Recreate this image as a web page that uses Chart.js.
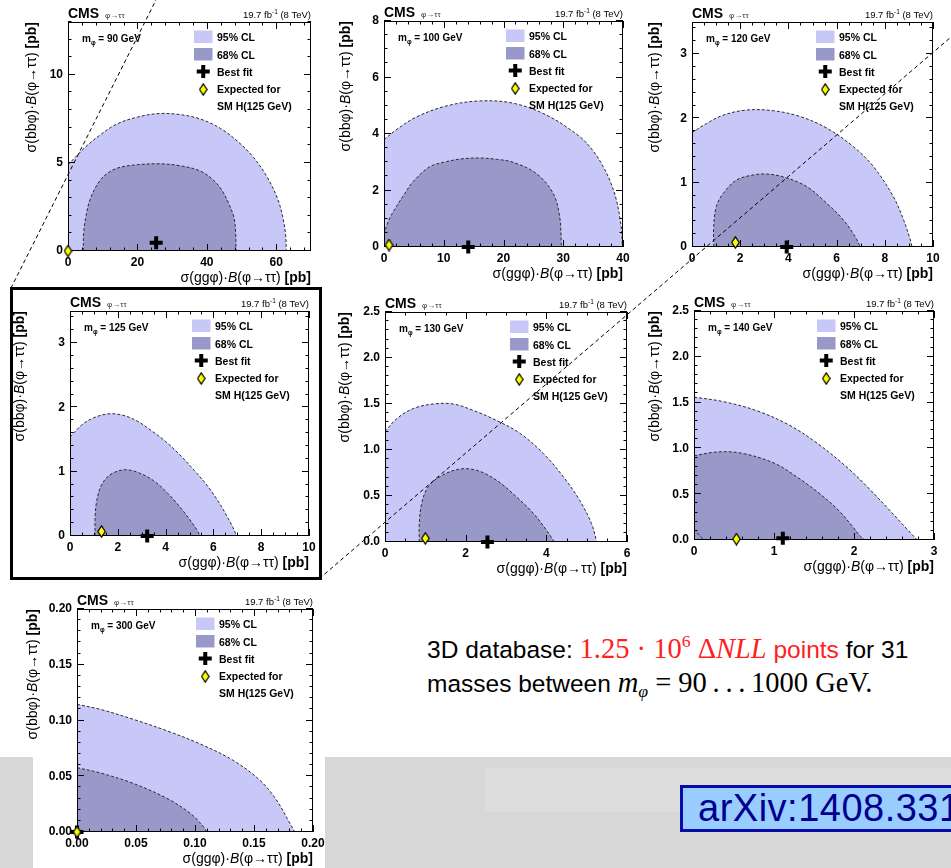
<!DOCTYPE html>
<html>
<head>
<meta charset="utf-8">
<script src="https://cdn.jsdelivr.net/npm/chart.js@4.4.0/dist/chart.umd.min.js"></script>
<style>
  html, body { margin: 0; padding: 0; width: 951px; height: 868px; overflow: hidden; background: #fff; position: relative;
    font-family: "Liberation Sans", Arial, Helvetica, sans-serif; }
  .abs { position: absolute; }
  canvas { position: absolute; }
  #band { left: 0; top: 757px; width: 951px; height: 111px; background: #d7d7d7; }
  #bandLight { left: 485px; top: 768px; width: 466px; height: 44px; background: #dcdcdc; }
  #p300bg { left: 33px; top: 590px; width: 292px; height: 278px; background: #fff; }
  #focus { left: 10px; top: 287px; width: 306px; height: 287px; border: 3px solid #000; }
  .note { position: absolute; left: 427px; font-size: 24.5px; line-height: 33px; white-space: nowrap; color: #000; }
  .m { font-family: "Liberation Serif", "DejaVu Serif", serif; font-size: 28.5px; }
  .red { color: #ff2020; }
  .note sup { font-size: 0.62em; line-height: 0; vertical-align: 0.62em; }
  .note sub { font-size: 0.62em; line-height: 0; vertical-align: -0.3em; }
  #arxiv { left: 680px; top: 785px; width: 320px; height: 41px; line-height: 41px; padding-left: 15px;
    background: #99ccff; border: 3px solid #0a0aa8; color: #00008c; font-size: 38px; letter-spacing: 0.5px; white-space: nowrap; }
  svg { position: absolute; left: 0; top: 0; pointer-events: none; }
</style>
</head>
<body>
<div class="abs" id="band"></div>
<div class="abs" id="bandLight"></div>
<div class="abs" id="p300bg"></div>

<div class="note" style="top:632px">3D database: <span class="m red">1.25 · 10<sup>6</sup> Δ<i>NLL</i></span><span class="red"> points</span> for 31</div>
<div class="note" style="top:666px">masses between <span class="m"><i>m</i><sub><i>φ</i></sub> = 90&thinsp;.&thinsp;.&thinsp;.&thinsp;1000 GeV.</span></div>
<div class="abs" id="arxiv">arXiv:1408.3316</div>

<script>
// ---------------- values per mass hypothesis ----------------
// contours are [sigma(gg phi)·B, sigma(bb phi)·B] in pb; regions are filled down to zero
const xLabels90 = ['0', '20', '40', '60'];
const yLabels90 = ['0', '5', '10'];
const cl95_90 = [[0,4.9],[2,5.3],[5,5.9],[9,6.55],[14,7.2],[20,7.6],[26,7.8],[32,7.75],[38,7.5],[44,6.95],[49,6.2],[53.5,5.3],[57.5,4.15],[60.5,2.9],[62,1.8],[62.7,0.9],[62.9,0]];
const cl68_90 = [[4.4,0],[4.5,1.0],[5.2,2.0],[6.5,3.0],[9.2,4.0],[12,4.5],[15,4.75],[20,4.9],[26.5,4.95],[32,4.85],[38,4.55],[42,4.0],[44.5,3.4],[46.5,2.6],[47.8,1.9],[48.3,1.0],[48.4,0]];
const best90 = [25.4, 0.47];
const sm90 = [0, 0];

const xLabels100 = ['0', '10', '20', '30', '40'];
const yLabels100 = ['0', '2', '4', '6', '8'];
const cl95_100 = [[0,3.8],[2,4.14],[5.4,4.6],[10.4,4.99],[16,5.17],[21.6,5.09],[27.2,4.67],[32.8,3.9],[35,3.4],[36.7,2.84],[38,2.25],[38.9,1.66],[39.5,1.0],[39.8,0.48],[39.9,0]];
const cl68_100 = [[0,0.45],[0.8,0.95],[2.07,1.43],[3.5,1.9],[4.86,2.31],[7.65,2.84],[10.4,3.02],[13,3.12],[16,3.15],[19,3.1],[21.6,3.0],[25.5,2.6],[28.3,1.9],[29.4,1.07],[29.7,0]];
const best100 = [14.1, 0];
const sm100 = [0.84, 0.07];

const xLabels120 = ['0', '2', '4', '6', '8', '10'];
const yLabels120 = ['0', '1', '2', '3'];
const cl95_120 = [[0,1.78],[0.6,1.92],[1.29,2.05],[2.26,2.13],[3.37,2.12],[4.48,2.03],[5.59,1.85],[6.7,1.56],[7.53,1.25],[8.36,0.78],[8.78,0.42],[9.06,0.11],[9.13,0]];
const cl68_120 = [[0.9,0],[0.9,0.32],[1.01,0.63],[1.29,0.83],[1.84,1.04],[2.54,1.12],[3.09,1.135],[3.79,1.09],[4.76,0.94],[5.59,0.68],[6.28,0.42],[6.77,0.16],[6.98,0]];
const best120 = [3.93, 0];
const sm120 = [1.8, 0.07];

const xLabels125 = ['0', '2', '4', '6', '8', '10'];
const yLabels125 = ['0', '1', '2', '3'];
const cl95_125 = [[0,1.54],[0.5,1.73],[1.0,1.84],[1.6,1.9],[2.2,1.88],[2.8,1.79],[3.4,1.64],[4.0,1.47],[4.6,1.26],[5.2,1.02],[5.75,0.78],[6.2,0.54],[6.55,0.32],[6.82,0.13],[6.97,0]];
const cl68_125 = [[1.05,0],[1.05,0.3],[1.12,0.55],[1.3,0.78],[1.6,0.93],[2.0,1.01],[2.4,1.03],[2.9,0.98],[3.5,0.86],[4.1,0.66],[4.6,0.45],[5.0,0.26],[5.3,0.1],[5.45,0]];
const best125 = [3.23, 0];
const sm125 = [1.32, 0.07];

const xLabels130 = ['0', '2', '4', '6'];
const yLabels130 = ['0.0', '0.5', '1.0', '1.5', '2.0', '2.5'];
const cl95_130 = [[0,1.2],[0.29,1.34],[0.7,1.45],[1.2,1.5],[1.69,1.5],[2.19,1.43],[2.77,1.32],[3.35,1.18],[3.93,0.96],[4.42,0.71],[4.83,0.45],[5.12,0.2],[5.25,0]];
const cl68_130 = [[0.85,0],[0.85,0.2],[0.91,0.42],[1.07,0.6],[1.36,0.71],[1.82,0.79],[2.27,0.78],[2.77,0.67],[3.26,0.49],[3.68,0.31],[4.0,0.13],[4.2,0]];
const best130 = [2.54, 0];
const sm130 = [1.0, 0.04];

const xLabels140 = ['0', '1', '2', '3'];
const yLabels140 = ['0.0', '0.5', '1.0', '1.5', '2.0', '2.5'];
const cl95_140 = [[0,1.56],[0.37,1.51],[0.79,1.41],[1.2,1.25],[1.55,1.05],[1.93,0.78],[2.2,0.55],[2.45,0.32],[2.65,0.13],[2.79,0]];
const cl68_140 = [[0,0.92],[0.28,0.96],[0.58,0.95],[1.0,0.84],[1.3,0.68],[1.55,0.52],[1.8,0.33],[1.97,0.16],[2.08,0.04],[2.14,0]];
const edge140 = [[0,0.12],[0.12,0]];
const best140 = [1.11, 0.02];
const sm140 = [0.53, 0.01];

const xLabels300 = ['0.00', '0.05', '0.10', '0.15', '0.20'];
const yLabels300 = ['0.00', '0.05', '0.10', '0.15', '0.20'];
const cl95_300 = [[0,0.1145],[0.0197,0.110],[0.0479,0.101],[0.0761,0.0908],[0.1043,0.079],[0.1324,0.0642],[0.155,0.0464],[0.169,0.0287],[0.1803,0.008],[0.1846,0]];
const cl68_300 = [[0,0.0577],[0.0197,0.053],[0.0479,0.0435],[0.0761,0.0302],[0.0958,0.0169],[0.107,0.005],[0.11,0]];
const best300 = [0, 0];
const sm300 = [0, 0];

// ---------------- styling ----------------
const C95 = '#c8c8f8';
const C68 = '#9999c9';
const LINE = '#2a2a2a';
const FAM = '"Liberation Sans", Arial, Helvetica, sans-serif';
const font = (size, weight = 'normal', style = 'normal') => `${style} ${weight} ${size}px ${FAM}`;

// yellow diamond used for the SM expectation marker
function makeDiamond() {
  const c = document.createElement('canvas');
  c.width = 9; c.height = 13;
  const g = c.getContext('2d');
  g.beginPath();
  g.moveTo(4.5, 0.8); g.lineTo(8.2, 6.5); g.lineTo(4.5, 12.2); g.lineTo(0.8, 6.5); g.closePath();
  g.fillStyle = '#ffff00'; g.fill();
  g.lineWidth = 1.2; g.strokeStyle = '#000'; g.stroke();
  return c;
}
const DIAMOND = makeDiamond();

function drawRuns(ctx, runs, x, y, align) {
  let w = 0;
  runs.forEach(r => { ctx.font = r.f; r.w = ctx.measureText(r.t).width; w += r.w; });
  let cx = align === 'right' ? x - w : (align === 'center' ? x - w / 2 : x);
  runs.forEach(r => { ctx.font = r.f; ctx.fillText(r.t, cx, y + (r.dy || 0)); cx += r.w; });
  return w;
}

const titleRuns = head => [
  { t: head, f: font(14) },
  { t: 'B', f: font(14, 'normal', 'italic') },
  { t: '(φ→ττ) ', f: font(14) },
  { t: '[pb]', f: font(14, 'bold') }
];

// frame with inward ticks, CMS labels, legend and axis titles
const decor = {
  id: 'decor',
  afterDatasetDraw(chart, args) {
    const ds = chart.data.datasets[args.index];
    if (!ds.frameAfter) return;
    const p = chart.options.plugins.decor;
    const { ctx, chartArea: a, scales: { x, y } } = chart;
    ctx.save();
    ctx.strokeStyle = '#000';
    ctx.lineWidth = 1;
    ctx.strokeRect(a.left + 0.5, a.top + 0.5, a.right - a.left - 1, a.bottom - a.top - 1);
    const marks = (scale, minor, majors) => {
      const out = [];
      const n = Math.floor((scale.max - scale.min) / minor + 1e-6);
      for (let i = 0; i <= n; i++) {
        const v = scale.min + i * minor;
        const major = majors.some(m => Math.abs(m - v) < minor * 1e-3);
        out.push([scale.getPixelForValue(v), major ? 7 : 3.5]);
      }
      return out;
    };
    ctx.beginPath();
    marks(x, p.xMinor, p.xVals).forEach(([px, len]) => {
      const X = Math.round(px) + 0.5;
      ctx.moveTo(X, a.bottom); ctx.lineTo(X, a.bottom - len);
      ctx.moveTo(X, a.top); ctx.lineTo(X, a.top + len);
    });
    marks(y, p.yMinor, p.yVals).forEach(([py, len]) => {
      const Y = Math.round(py) - 0.5;
      ctx.moveTo(a.left, Y); ctx.lineTo(a.left + len, Y);
      ctx.moveTo(a.right, Y); ctx.lineTo(a.right - len, Y);
    });
    ctx.stroke();
    ctx.restore();
  },
  afterDraw(chart) {
    const p = chart.options.plugins.decor;
    const { ctx, chartArea: a } = chart;
    ctx.save();
    ctx.textAlign = 'left';
    ctx.textBaseline = 'alphabetic';
    ctx.fillStyle = '#000';
    const w = drawRuns(ctx, [{ t: 'CMS', f: font(14, 'bold') }], a.left, a.top - 4);
    ctx.fillStyle = '#333';
    drawRuns(ctx, [{ t: 'φ→ττ', f: font(8) }], a.left + w + 6, a.top - 4.5);
    ctx.fillStyle = '#000';
    drawRuns(ctx, [
      { t: '19.7 fb', f: font(9.5) },
      { t: '-1', f: font(6.5), dy: -4 },
      { t: ' (8 TeV)', f: font(9.5) }
    ], a.right, a.top - 4, 'right');
    drawRuns(ctx, [
      { t: 'm', f: font(10, 'bold') },
      { t: 'φ', f: font(6.5, 'bold'), dy: 2.5 },
      { t: ` = ${p.mass} GeV`, f: font(10, 'bold') }
    ], a.left + 14, a.top + 20);

    // legend
    const lx = a.right - 117, tx = a.right - 94, mx = lx + 9.25;
    ctx.fillStyle = C95; ctx.fillRect(lx, a.top + 8.5, 18.5, 12.5);
    ctx.fillStyle = C68; ctx.fillRect(lx, a.top + 26, 18.5, 12.5);
    ctx.fillStyle = '#000';
    const cy = a.top + 49.5;
    ctx.fillRect(mx - 6.5, cy - 2, 13, 4);
    ctx.fillRect(mx - 2, cy - 6.5, 4, 13);
    ctx.drawImage(DIAMOND, mx - 4.5, a.top + 67.5 - 6.5);
    const lf = font(10.5, 'bold');
    drawRuns(ctx, [{ t: '95% CL', f: lf }], tx, a.top + 19);
    drawRuns(ctx, [{ t: '68% CL', f: lf }], tx, a.top + 36.5);
    drawRuns(ctx, [{ t: 'Best fit', f: lf }], tx, a.top + 53.5);
    drawRuns(ctx, [{ t: 'Expected for', f: lf }], tx, a.top + 71);
    drawRuns(ctx, [{ t: 'SM H(125 GeV)', f: lf }], tx, a.top + 87.5);

    // axis titles
    drawRuns(ctx, titleRuns('σ(ggφ)·'), a.right, a.bottom + 30.5, 'right');
    ctx.translate(a.left - p.yTitleOff, a.top);
    ctx.rotate(-Math.PI / 2);
    ctx.textBaseline = 'middle';
    drawRuns(ctx, titleRuns('σ(bbφ)·'), 0, 0, 'right');
    ctx.restore();
  }
};

// ---------------- panel placement ----------------
const panels = [
  { mass: '90',  L: 68,  T: 22,  R: 311, B: 251, xMax: 70,  yMax: 13,  xMinor: 4,    yMinor: 1,    yTitleOff: 36,
    xLabels: xLabels90,  yLabels: yLabels90,  cl95: cl95_90,  cl68: cl68_90,  best: best90,  sm: sm90 },
  { mass: '100', L: 384, T: 21,  R: 623, B: 247, xMax: 40,  yMax: 8,   xMinor: 2,    yMinor: 0.5,  yTitleOff: 38,
    xLabels: xLabels100, yLabels: yLabels100, cl95: cl95_100, cl68: cl68_100, best: best100, sm: sm100 },
  { mass: '120', L: 692, T: 22,  R: 933, B: 247, xMax: 10,  yMax: 3.5, xMinor: 0.5,  yMinor: 0.2,  yTitleOff: 37,
    xLabels: xLabels120, yLabels: yLabels120, cl95: cl95_120, cl68: cl68_120, best: best120, sm: sm120 },
  { mass: '125', L: 70,  T: 311, R: 309, B: 536, xMax: 10,  yMax: 3.5, xMinor: 0.5,  yMinor: 0.2,  yTitleOff: 50,
    xLabels: xLabels125, yLabels: yLabels125, cl95: cl95_125, cl68: cl68_125, best: best125, sm: sm125 },
  { mass: '130', L: 385, T: 312, R: 627, B: 542, xMax: 6,   yMax: 2.5, xMinor: 0.5,  yMinor: 0.1,  yTitleOff: 40,
    xLabels: xLabels130, yLabels: yLabels130, cl95: cl95_130, cl68: cl68_130, best: best130, sm: sm130 },
  { mass: '140', L: 694, T: 311, R: 934, B: 540, xMax: 3,   yMax: 2.5, xMinor: 0.2,  yMinor: 0.1,  yTitleOff: 39,
    xLabels: xLabels140, yLabels: yLabels140, cl95: cl95_140, cl68: cl68_140, edge: edge140, best: best140, sm: sm140 },
  { mass: '300', L: 77,  T: 609, R: 313, B: 832, xMax: 0.2, yMax: 0.2, xMinor: 0.01, yMinor: 0.01, yTitleOff: 44,
    xLabels: xLabels300, yLabels: yLabels300, cl95: cl95_300, cl68: cl68_300, best: best300, sm: sm300 }
];

const PADL = 60, PADT = 20, PADR = 18, PADB = 36;
const toXY = arr => arr.map(([x, y]) => ({ x, y }));
const tickFont = { family: FAM, size: 12, weight: 'bold' };

function buildPanel(p) {
  const w = (p.R - p.L) + PADL + PADR, h = (p.B - p.T) + PADT + PADB;
  const cv = document.createElement('canvas');
  cv.width = w; cv.height = h;
  cv.style.left = (p.L - PADL) + 'px'; cv.style.top = (p.T - PADT) + 'px';
  cv.style.width = w + 'px'; cv.style.height = h + 'px';
  document.body.appendChild(cv);

  const xVals = p.xLabels.map(Number), yVals = p.yLabels.map(Number);
  const contour = (pts, color, order, frameAfter) => ({
    data: toXY(pts), showLine: true, fill: 'origin', backgroundColor: color,
    borderColor: LINE, borderWidth: 1, borderDash: [3, 2], tension: 0.35,
    pointRadius: 0, pointHoverRadius: 0, order, frameAfter
  });
  const datasets = [contour(p.cl95, C95, 5, false), contour(p.cl68, C68, 4, !p.edge)];
  if (p.edge) {
    datasets.push({ data: toXY(p.edge), showLine: true, fill: false, borderColor: LINE, borderWidth: 1,
      borderDash: [3, 2], pointRadius: 0, pointHoverRadius: 0, order: 3, frameAfter: true });
  }
  datasets.push({ data: [{ x: p.best[0], y: p.best[1] }], pointStyle: 'cross', pointRadius: 6.5,
    borderWidth: 4, borderColor: '#000', backgroundColor: '#000', clip: false, order: 1 });
  datasets.push({ data: [{ x: p.sm[0], y: p.sm[1] }], pointStyle: DIAMOND, pointRadius: 6,
    clip: false, order: 0 });

  new Chart(cv, {
    type: 'scatter',
    data: { datasets },
    options: {
      responsive: false,
      animation: false,
      devicePixelRatio: 1,
      layout: { padding: { top: PADT, right: PADR, left: 0, bottom: 0 } },
      scales: {
        x: {
          type: 'linear', min: 0, max: p.xMax,
          afterFit: s => { s.height = PADB; },
          afterBuildTicks: s => { s.ticks = xVals.map(v => ({ value: v })); },
          grid: { display: false, drawTicks: false },
          border: { display: false },
          ticks: { font: tickFont, color: '#000', padding: 4, autoSkip: false, maxRotation: 0,
            callback: (v, i) => p.xLabels[i] }
        },
        y: {
          type: 'linear', min: 0, max: p.yMax,
          afterFit: s => { s.width = PADL; },
          afterBuildTicks: s => { s.ticks = yVals.map(v => ({ value: v })); },
          grid: { display: false, drawTicks: false },
          border: { display: false },
          ticks: { font: tickFont, color: '#000', padding: 5, autoSkip: false,
            callback: (v, i) => p.yLabels[i] }
        }
      },
      plugins: {
        legend: { display: false },
        tooltip: { enabled: false },
        decor: { mass: p.mass, xMinor: p.xMinor, yMinor: p.yMinor, xVals, yVals, yTitleOff: p.yTitleOff }
      }
    },
    plugins: [decor]
  });
}

panels.forEach(buildPanel);
</script>

<div class="abs" id="focus"></div>
<svg width="951" height="868">
  <line x1="157.5" y1="-3" x2="11" y2="288" stroke="#000" stroke-width="1" stroke-dasharray="4 3"/>
  <line x1="960" y1="29.3" x2="320" y2="578" stroke="#000" stroke-width="1" stroke-dasharray="4 3"/>
</svg>
</body>
</html>
